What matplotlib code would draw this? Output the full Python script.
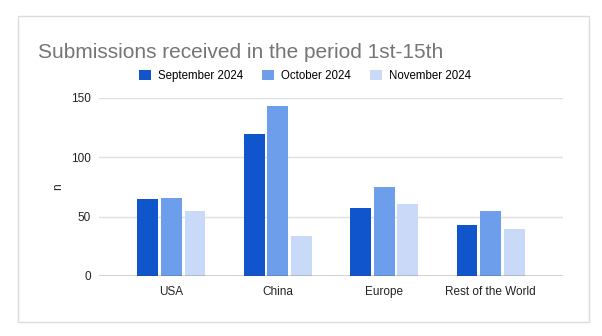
import matplotlib
matplotlib.use("Agg")
import matplotlib.pyplot as plt
from matplotlib.patches import Rectangle
import numpy as np

regions = ["USA", "China", "Europe", "Rest of the World"]
months = ["September 2024", "October 2024", "November 2024"]
sep_2024 = [65, 120, 57, 43]
oct_2024 = [66, 143, 75, 55]
nov_2024 = [55, 34, 61, 40]
colors = ["#1155cc", "#6d9eeb", "#c9daf8"]

plt.rcParams["font.family"] = ["Liberation Sans", "DejaVu Sans"]

W, H = 602, 336
fig = plt.figure(figsize=(W / 100, H / 100), dpi=100)

# card border
fig.patches.append(Rectangle((18 / W, 1 - 322 / H), 571 / W, 306 / H,
                             transform=fig.transFigure, fill=False,
                             edgecolor="#dcdcdc", linewidth=1))

ax = fig.add_axes([99 / W, 1 - 276 / H, 464 / W, 178 / H])

x = np.arange(len(regions))
step = 0.222
width = 0.196
for i, (vals, label) in enumerate(zip([sep_2024, oct_2024, nov_2024], months)):
    ax.bar(x + (i - 1) * step, vals, width, color=colors[i], label=label,
           zorder=3)

ax.set_xlim(-0.68, 3.68)
ax.set_ylim(0, 150)
ax.set_yticks([0, 50, 100, 150])
ax.yaxis.grid(True, color="#e0e0e0", linewidth=1, zorder=0)
ax.axhline(0, color="#333333", linewidth=1, zorder=4)
for s in ax.spines.values():
    s.set_visible(False)
ax.tick_params(axis="both", length=0, labelsize=8.5, colors="#222222")
ax.tick_params(axis="y", pad=6)
ax.tick_params(axis="x", pad=7)
ax.set_xticks(x)
ax.set_xticklabels(regions)
ax.set_ylabel("n", fontsize=8.5, color="#222222", labelpad=5)

fig.text(38 / W, 1 - 52 / H, "Submissions received in the period 1st-15th",
         fontsize=15, color="#757575", va="center", ha="left")

fig.legend(loc="center", bbox_to_anchor=(305 / W, 1 - 76 / H), ncol=3,
           frameon=False, fontsize=8.3, handlelength=1.0, handleheight=1.0,
           handletextpad=0.6, columnspacing=1.7)

fig.savefig("out.png", dpi=100)
